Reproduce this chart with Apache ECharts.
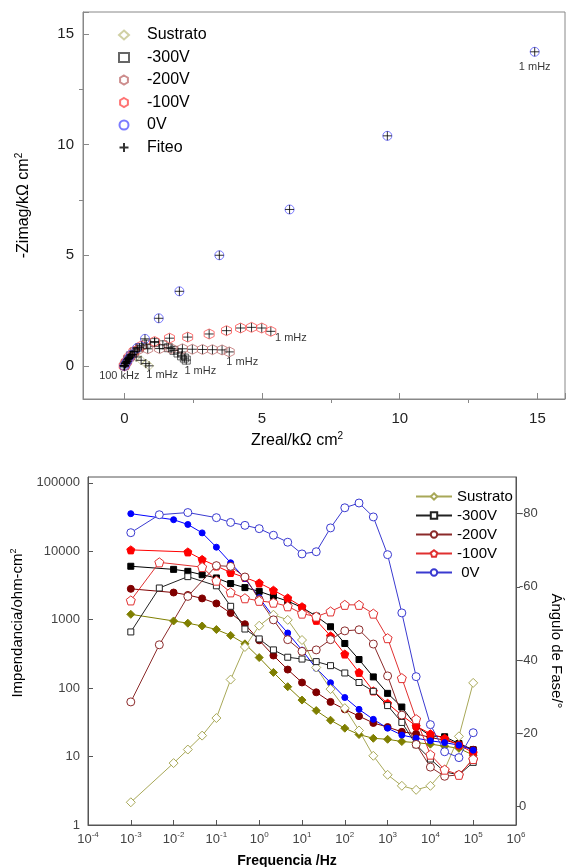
<!DOCTYPE html>
<html>
<head>
<meta charset="utf-8">
<script src="https://cdn.jsdelivr.net/npm/echarts@6/dist/echarts.min.js"></script>
<style>
html,body{margin:0;padding:0;background:#fff;}
#nyquist{position:absolute;left:0;top:0;width:571px;height:450px;}
#bode{position:absolute;left:0;top:450px;width:571px;height:417px;}
</style>
</head>
<body>
<div id="nyquist"></div>
<div id="bode"></div>
<script>
// Nyquist: [Zreal, -Zimag] in kOhm cm2
var nySustrato = [[0,0],[0.04,0.09],[0.1,0.22],[0.18,0.37],[0.29,0.5],[0.43,0.4],[0.61,0.25],[0.78,0.1],[0.9,0.0]];
var ny300 = [[0,0],[0.05,0.12],[0.12,0.28],[0.22,0.45],[0.36,0.63],[0.55,0.82],[0.8,0.98],[1.1,1.05],[1.4,0.95],[1.6,0.82],[1.8,0.7],[1.95,0.58],[2.08,0.45],[2.18,0.35],[2.25,0.26]];
var ny200 = [[0,0],[0.06,0.14],[0.15,0.32],[0.28,0.52],[0.49,0.72],[0.85,0.77],[1.28,0.78],[1.7,0.78],[2.11,0.77],[2.47,0.75],[2.84,0.74],[3.2,0.73],[3.55,0.72],[3.81,0.63]];
var ny100 = [[0,0],[0.07,0.17],[0.18,0.4],[0.35,0.65],[0.62,0.9],[1.1,1.1],[1.64,1.25],[2.3,1.3],[3.08,1.44],[3.71,1.59],[4.22,1.71],[4.62,1.74],[4.99,1.71],[5.32,1.56]];
var ny0 = [[0,0],[0.05,0.1],[0.1,0.2],[0.16,0.33],[0.24,0.5],[0.46,0.8],[0.75,1.22],[1.25,2.15],[2.0,3.37],[3.45,5.0],[6.0,7.07],[9.55,10.4],[14.9,14.2]];

// Bode: frequency grid (Hz), null = no point at that frequency
var freq = [0.001,0.00464,0.01,0.0215,0.0464,0.1,0.215,0.464,1,2.15,4.64,10,21.5,46.4,100,215,464,1000,2150,4640,10000,21500,46400,100000];
// |Z| (ohm cm2), filled symbols
var zSustrato = [1200,null,960,890,810,720,590,445,280,170,105,67,47,34,26,21,18.5,17.9,16.6,16,15.2,14.2,13.2,10.5];
var z300 = [6050,null,5450,5100,4550,4080,3380,2950,2600,2200,1870,1510,1130,790,450,262,146,84,53,28,20,19.5,15.5,12.6];
var z200 = [2830,null,2500,2300,2050,1730,1250,860,500,300,187,121,87,63,49,39,31,27,23,21.5,19,17.4,15.2,12.6];
var z100 = [10500,null,null,9800,7600,6100,4900,4150,3450,2700,2080,1550,980,580,315,170,91,60,40,28,21.5,18.5,14.8,11.4];
var z0 = [35500,null,29000,24700,18600,11500,6800,4000,2100,1100,640,360,195,120,73,49,35,26,20.6,18.6,17,16,14.7,12.4];
// phase angle (deg), open symbols
var phSustrato = [-1.2,null,-11.9,-15.6,-19.4,-24.2,-34.7,-43.6,-49.4,-52.4,-51.0,-45.5,-38,-32.1,-26.9,-20.8,-13.9,-8.7,-5.7,-4.6,-5.7,-10.1,-19.2,-33.8];
var ph300 = [-47.7,-59.7,null,-62.8,null,-60.3,-54.7,-48.5,-45.8,-42.8,-40.8,-40.3,-39.6,-38.5,-36.5,-33.9,-31.5,-27.6,-23.0,-16.9,-13.0,-9.5,-8.7,-12.1];
var ph200 = [-28.6,-44.2,null,-57.4,null,-65.8,-65.6,-62.7,-56.5,-51.0,-45.6,-42.4,-42.8,-45.6,-48.0,-48.3,-44.4,-35.7,-25.0,-17.0,-10.8,-8.3,-8.7,-13.0];
var ph100 = [-56.3,-66.7,null,null,-65.4,-61.7,-58.5,-56.9,-56.2,-55.7,-54.7,-52.7,-51.9,-53.3,-55.1,-55.1,-52.7,-46.0,-35.1,-23.9,-14.2,-10.1,-8.7,-13.0];
var ph0 = [-74.8,-79.7,null,-80.3,null,-78.9,-77.6,-76.8,-75.9,-74.1,-72.2,-69.0,-69.6,-76.1,-81.6,-82.9,-79.1,-68.8,-52.9,-35.5,-22.4,-15.0,-13.4,-20.2];

var hexagon = 'path://M5,0L9.33,2.5L9.33,7.5L5,10L0.67,7.5L0.67,2.5Z';
var pentagon = 'path://M5,0L10,3.8L8.1,10L1.9,10L0,3.8Z';
var plus = 'path://M0,5L10,5M5,0L5,10';

var chart1 = echarts.init(document.getElementById('nyquist'));
var chart2 = echarts.init(document.getElementById('bode'));

function note(points, idx, text, offset) {
    return points.map(function (p, i) {
        if (i !== idx) return p;
        return {value: p, label: {show: true, formatter: text, position: 'inside', offset: offset,
            color: '#000', fontSize: 11, fontFamily: 'Arial'}};
    });
}

function nySeries(name, data, symbol, color, size) {
    return {
        name: name, type: 'scatter', data: data, symbol: symbol, symbolSize: size,
        itemStyle: {color: 'rgba(255,255,255,0)', borderColor: color, borderWidth: 1}
    };
}

var fitData = nySustrato.concat(ny300, ny200, ny100, ny0);

var option1 = {
    animation: false,
    textStyle: {fontFamily: 'Arial'},
    legend: {
        orient: 'vertical', left: 113, top: 22, itemWidth: 10, itemHeight: 9, itemGap: 6.5,
        textStyle: {fontSize: 16, color: '#000', fontFamily: 'Arial', padding: [0, 0, 0, 13]},
        data: ['Sustrato', '-300V', '-200V', '-100V', '0V', 'Fiteo']
    },
    grid: {left: 83, right: 6, top: 12, bottom: 51, outerBoundsMode: 'none',
        show: true, borderColor: '#888', borderWidth: 1},
    xAxis: {
        type: 'value', min: -1.5, max: 16, splitNumber: 4,
        name: '{t|Zreal/kΩ cm}{s|2}', nameLocation: 'middle', nameGap: 28,
        nameTextStyle: {padding: [0, 54, 0, 0], rich: {
            t: {fontSize: 16, color: '#000', fontFamily: 'Arial'},
            s: {fontSize: 10, color: '#000', verticalAlign: 'top', padding: [0, 0, 9, 0]}}},
        axisLine: {onZero: false, lineStyle: {color: '#888'}},
        axisTick: {inside: true, length: 6, lineStyle: {color: '#888'}},
        minorTick: {show: true, splitNumber: 2, length: -4, lineStyle: {color: '#888'}},
        axisLabel: {fontSize: 15, color: '#222', margin: 12, showMinLabel: false, showMaxLabel: false},
        splitLine: {show: false}
    },
    yAxis: {
        type: 'value', min: -1.5, max: 16, splitNumber: 4,
        name: '{t|-Zimag/kΩ cm}{s|2}', nameLocation: 'middle', nameGap: 50,
        nameTextStyle: {rich: {
            t: {fontSize: 16, color: '#000', fontFamily: 'Arial'},
            s: {fontSize: 10, color: '#000', verticalAlign: 'top', padding: [0, 0, 9, 0]}}},
        axisLine: {onZero: false, lineStyle: {color: '#888'}},
        axisTick: {inside: true, length: 6, lineStyle: {color: '#888'}},
        minorTick: {show: true, splitNumber: 2, length: -4, lineStyle: {color: '#888'}},
        axisLabel: {fontSize: 15, color: '#222', margin: 9, showMinLabel: false, showMaxLabel: false},
        splitLine: {show: false}
    },
    series: [
        nySeries('Sustrato', note(nySustrato, nySustrato.length - 1, '1 mHz', [13, 9]), 'diamond', '#c4c48c', 9),
        nySeries('-300V', note(ny300, ny300.length - 1, '1 mHz', [14, 11]), 'rect', '#404040', 8),
        nySeries('-200V', note(ny200, ny200.length - 1, '1 mHz', [13, 10]), hexagon, '#c07070', 10),
        nySeries('-100V', note(ny100, ny100.length - 1, '1 mHz', [20, 7]), hexagon, '#ff5050', 10),
        nySeries('0V', note(note(ny0, ny0.length - 1, '1 mHz', [0, 15]), 0, '100 kHz', [-5, 10]), 'circle', '#5a5aff', 9),
        nySeries('Fiteo', fitData, plus, '#000', 9)
    ]
};

function pairs(vals) {
    var out = [];
    for (var i = 0; i < freq.length; i++) {
        if (vals[i] != null) out.push([freq[i], vals[i]]);
    }
    return out;
}

function zSeries(name, vals, symbol, color, size) {
    return {
        name: name, type: 'line', yAxisIndex: 0, data: pairs(vals),
        symbol: symbol, symbolSize: size,
        lineStyle: {color: color, width: 1},
        itemStyle: {color: color, borderColor: color, borderWidth: 1}
    };
}

function phSeries(name, vals, symbol, color, size) {
    return {
        name: name, type: 'line', yAxisIndex: 1, data: pairs(vals),
        symbol: symbol, symbolSize: size,
        lineStyle: {color: color, width: 1},
        itemStyle: {color: '#fff', borderColor: color, borderWidth: 1}
    };
}

var option2 = {
    animation: false,
    textStyle: {fontFamily: 'Arial'},
    legend: {
        orient: 'vertical', left: 410, top: 34, itemWidth: 36, itemHeight: 8, itemGap: 4,
        textStyle: {fontSize: 15, color: '#000', fontFamily: 'Arial'},
        data: ['Sustrato', '-300V', '-200V', '-100V', ' 0V']
    },
    grid: {left: 88, right: 55, top: 27, bottom: 42, outerBoundsMode: 'none',
        show: true, borderColor: '#555', borderWidth: 1},
    xAxis: {
        type: 'log', logBase: 10, min: 0.0001, max: 1000000,
        name: 'Frequencia /Hz', nameLocation: 'middle', nameGap: 29,
        nameTextStyle: {fontSize: 14, fontWeight: 'bold', color: '#000', padding: [0, 30, 0, 0]},
        axisLine: {onZero: false, lineStyle: {color: '#555'}},
        axisTick: {inside: true, length: 5, lineStyle: {color: '#555'}},
        axisLabel: {
            margin: 6,
            formatter: function (v) {
                return '{b|10}{e|' + Math.round(Math.log(v) / Math.LN10) + '}';
            },
            rich: {
                b: {fontSize: 13, color: '#444', fontFamily: 'Arial'},
                e: {fontSize: 8, color: '#444', verticalAlign: 'top', padding: [0, 0, 8, 0]}
            }
        },
        splitLine: {show: false}
    },
    yAxis: [
        {
            type: 'log', logBase: 10, min: 1, max: 122000, position: 'left',
            name: '{t|Impendancia/ohm-cm}{s|2}', nameLocation: 'middle', nameGap: 58,
            nameTextStyle: {padding: [0, 0, 0, 56], rich: {
                t: {fontSize: 15, color: '#000', fontFamily: 'Arial'},
                s: {fontSize: 9, color: '#000', verticalAlign: 'top', padding: [0, 0, 9, 0]}}},
            axisLine: {onZero: false, lineStyle: {color: '#555'}},
            axisTick: {inside: true, length: 5, lineStyle: {color: '#555'}},
            axisLabel: {fontSize: 13, color: '#444', margin: 8, showMaxLabel: false,
                formatter: function (v) { return String(Math.round(v)); }},
            splitLine: {show: false}
        },
        {
            type: 'value', inverse: true, min: -90, max: 5, splitNumber: 5, position: 'right',
            name: 'Ángulo de Fase/°', nameLocation: 'middle', nameGap: 32, nameRotate: -90,
            nameTextStyle: {fontSize: 15, color: '#000'},
            axisLine: {show: true, onZero: false, lineStyle: {color: '#555'}},
            axisTick: {inside: false, length: 4, lineStyle: {color: '#555'}},
            axisLabel: {fontSize: 13, color: '#444', margin: 3, showMinLabel: false, showMaxLabel: false},
            splitLine: {show: false}
        }
    ],
    series: [
        zSeries('Sustrato Z', zSustrato, 'diamond', '#7f7f00', 8),
        zSeries('-300V Z', z300, 'rect', '#000', 6),
        zSeries('-200V Z', z200, 'circle', '#800000', 7),
        zSeries('-100V Z', z100, pentagon, '#ff0000', 8),
        zSeries('0V Z', z0, 'circle', '#0000ff', 6),
        phSeries('Sustrato', phSustrato, 'diamond', '#a8a858', 9),
        phSeries('-300V', ph300, 'rect', '#222', 6),
        phSeries('-200V', ph200, 'circle', '#8b2a2a', 8),
        phSeries('-100V', ph100, pentagon, '#e03030', 9),
        phSeries(' 0V', ph0, 'circle', '#3a3ad0', 8)
    ]
};

chart1.setOption(option1);
chart2.setOption(option2);
</script>
</body>
</html>
